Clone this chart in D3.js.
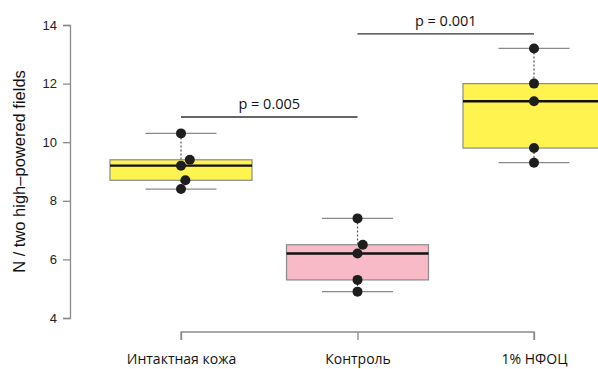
<!DOCTYPE html>
<html><head><meta charset="utf-8">
<script src="https://cdn.jsdelivr.net/npm/d3@7"></script>
<style>body{margin:0;background:#fff}svg{display:block}</style>
</head><body>
<script>
const categories = ["Интактная кожа", "Контроль", "1% НФОЦ"];
const points = [
  [10.3, 9.4, 9.2, 8.7, 8.4],
  [7.4, 6.5, 6.2, 5.3, 4.9],
  [13.2, 12.0, 11.4, 9.8, 9.3]
];
const jitter = [
  [0, 0.05, 0, 0.025, 0],
  [0, 0.03, 0, 0, 0],
  [0, 0, 0, 0, 0]
];
const q1 = [8.7, 5.3, 9.8];
const medians = [9.2, 6.2, 11.4];
const q3 = [9.4, 6.5, 12.0];
const whiskLo = [8.4, 4.9, 9.3];
const whiskHi = [10.3, 7.4, 13.2];
const boxColors = ["#fff44f", "#f7bac6", "#fff44f"];
const yTicks = [4, 6, 8, 10, 12, 14];
const comparisons = [
  {from: 0, to: 1, y: 10.86, label: "p = 0.005"},
  {from: 1, to: 2, y: 13.7, label: "p = 0.001"}
];
const yTitle = "N / two high\u2013powered fields";

const W = 598, H = 369;
const svg = d3.select("body").append("svg").attr("width", W).attr("height", H);
const y = d3.scaleLinear().domain([4, 14]).range([318, 25]);
const x = d3.scalePoint().domain(categories).range([181, 534]);
const step = x(categories[1]) - x(categories[0]);
const boxW = 142, capW = 71;

// y axis
const yAxis = svg.append("g").attr("transform", "translate(70,0)")
  .call(d3.axisLeft(y).tickValues(yTicks).tickSize(7).tickPadding(6).tickFormat(d3.format("d")));
yAxis.select(".domain").attr("stroke", "#8a8a8a").attr("stroke-width", 1.3);
yAxis.selectAll(".tick line").attr("stroke", "#8a8a8a").attr("stroke-width", 1.3);
yAxis.selectAll(".tick text").attr("fill", "#222").style("font-family", "Liberation Sans, Arial, sans-serif").style("font-size", "13px");

// x axis
const xAxis = svg.append("g").attr("transform", "translate(0,332)")
  .call(d3.axisBottom(x).tickSizeOuter(0).tickSize(8).tickPadding(14));
xAxis.select(".domain").attr("stroke", "#8a8a8a").attr("stroke-width", 1.3).attr("d", `M${x(categories[0])},8V0H${x(categories[2])}V8`);
xAxis.selectAll(".tick line").attr("stroke", "#8a8a8a").attr("stroke-width", 1.3);
xAxis.selectAll(".tick text").attr("fill", "#111").style("font-family", "Open Sans, sans-serif").style("font-size", "14px");

// y title
svg.append("text").attr("transform", `translate(25,${(y(4)+y(14))/2}) rotate(-90)`)
  .attr("text-anchor", "middle").attr("fill", "#111")
  .style("font-family", "Liberation Sans, Arial, sans-serif").style("font-size", "16.5px").text(yTitle);

// boxes
categories.forEach((c, i) => {
  const cx = x(c);
  const g = svg.append("g");
  g.append("line").attr("x1", cx).attr("x2", cx).attr("y1", y(whiskHi[i])).attr("y2", y(q3[i]))
    .attr("stroke", "#555").attr("stroke-width", 1.2).attr("stroke-dasharray", "2,2");
  g.append("line").attr("x1", cx).attr("x2", cx).attr("y1", y(q1[i])).attr("y2", y(whiskLo[i]))
    .attr("stroke", "#555").attr("stroke-width", 1.2).attr("stroke-dasharray", "2,2");
  [whiskHi[i], whiskLo[i]].forEach(v => {
    g.append("line").attr("x1", cx - capW/2).attr("x2", cx + capW/2).attr("y1", y(v)).attr("y2", y(v))
      .attr("stroke", "#8a8a8a").attr("stroke-width", 1.3);
  });
  g.append("rect").attr("x", cx - boxW/2).attr("y", y(q3[i])).attr("width", boxW).attr("height", y(q1[i]) - y(q3[i]))
    .attr("fill", boxColors[i]).attr("stroke", "#8a8a8a").attr("stroke-width", 1.2);
  g.append("line").attr("x1", cx - boxW/2).attr("x2", cx + boxW/2).attr("y1", y(medians[i])).attr("y2", y(medians[i]))
    .attr("stroke", "#111").attr("stroke-width", 2.4);
  g.selectAll("circle").data(points[i]).join("circle")
    .attr("cx", (d, j) => cx + jitter[i][j] * step)
    .attr("cy", d => y(d)).attr("r", 5).attr("fill", "#1e1e1e");
});

// comparisons
comparisons.forEach(cmp => {
  const x1 = x(categories[cmp.from]), x2 = x(categories[cmp.to]);
  svg.append("line").attr("x1", x1).attr("x2", x2).attr("y1", y(cmp.y)).attr("y2", y(cmp.y))
    .attr("stroke", "#333").attr("stroke-width", 1.3);
  svg.append("text").attr("x", (x1 + x2) / 2).attr("y", y(cmp.y) - 8).attr("text-anchor", "middle")
    .attr("fill", "#111").style("font-family", "Open Sans, sans-serif").style("font-size", "14.5px").text(cmp.label);
});
</script>
</body></html>
